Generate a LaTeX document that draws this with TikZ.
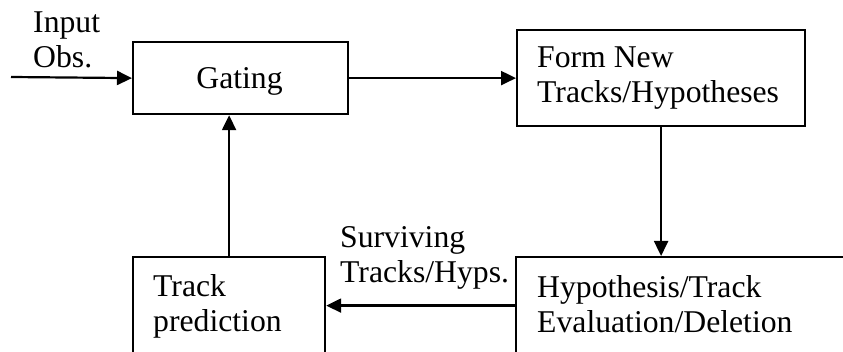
\documentclass[tikz,border=0pt]{standalone}
\usepackage{fontspec}
\setmainfont{Liberation Serif}
\usetikzlibrary{arrows.meta}
\begin{document}
\begin{tikzpicture}[x=1pt,y=-1pt,
  box/.style={draw,line width=2.2pt,inner sep=0pt,anchor=north west},
  txt/.style={font=\fontsize{31.7pt}{35.5pt}\selectfont,align=left,inner sep=0pt,anchor=base west},
  flow/.style={line width=2.2pt,-{Triangle[length=15pt,width=14pt]}}]
  \useasboundingbox (0,0) rectangle (843,352);
  \clip (0,0) rectangle (843,352);

  % blocks of the tracking loop
  \node[box,minimum width=215pt,minimum height=72pt] (gating) at (132,41) {};
  \node[box,minimum width=288pt,minimum height=96pt] (form) at (516,29) {};
  \node[box,minimum width=360pt,minimum height=97pt] (hyp) at (515,256) {};
  \node[box,minimum width=192pt,minimum height=97pt] (track) at (132,256) {};

  % block texts (anchored at the baseline of the last line)
  \node[txt,anchor=base] (gatingtxt) at (239.5,89) {Gating};
  \node[txt] (formtxt) at (537,103) {Form New\\Tracks/Hypotheses};
  \node[txt] (hyptxt) at (537,333) {Hypothesis/Track\\Evaluation/Deletion};
  \node[txt] (tracktxt) at (153,332) {Track\\prediction};

  % connector labels
  \node[txt] (inputtxt) at (33,68) {Input\\Obs.};
  \node[txt] (survtxt) at (340,283) {Surviving\\Tracks/Hyps.};

  % connectors
  \coordinate (in) at (11,77);
  \draw[flow] (in) -- (gating.west);
  \draw[flow] (gating.east) -- (form.west);
  \draw[flow] (form.south) -- (form.south |- hyp.north);
  \draw[flow] (hyp.west) -- (track.east);
  \draw[flow] (track.north) -- (track.north |- gating.south);
\end{tikzpicture}
\end{document}
